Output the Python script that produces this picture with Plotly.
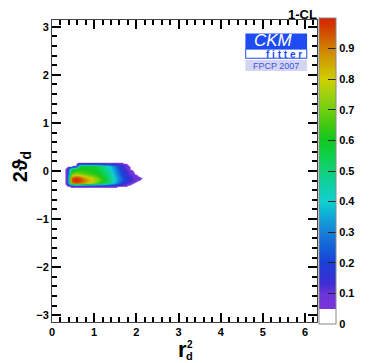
import numpy as np
import plotly.graph_objects as go

# grid of the 1-CL scan (r_d^2 along x, 2theta_d along y)
r2_vals = [0.25, 0.35, 0.45, 0.55, 0.65, 0.75, 0.85, 0.95, 1.05, 1.15, 1.25,
           1.35, 1.45, 1.55, 1.65, 1.75, 1.85, 1.95, 2.05, 2.15, 2.25]
theta_vals = [-0.40, -0.35, -0.30, -0.25, -0.20, -0.15, -0.10, -0.05,
              0.00, 0.05, 0.10, 0.15, 0.20, 0.25]

cl_rows = [
    [0, 0, 0, 0, 0, 0, 0, 0, 0, 0, 0, 0, 0, 0, 0, 0, 0, 0, 0, 0, 0],
    [0, 0, 0, 0, 0, 0, 0, 0, 0, 0, 0, 0, 0, 0, 0, 0, 0, 0, 0, 0, 0],
    [0, 0.05, 0.12, 0.14, 0.14, 0.14, 0.14, 0.14, 0.13, 0.13, 0.13, 0.12, 0.11, 0.10, 0.08, 0.06, 0.02, 0, 0, 0, 0],
    [0, 0.08, 0.86, 0.93, 0.91, 0.86, 0.80, 0.74, 0.67, 0.60, 0.54, 0.46, 0.38, 0.29, 0.20, 0.14, 0.09, 0.04, 0, 0, 0],
    [0, 0.09, 0.96, 1.00, 0.97, 0.92, 0.86, 0.80, 0.73, 0.66, 0.59, 0.51, 0.42, 0.33, 0.25, 0.18, 0.13, 0.09, 0.05, 0.01, 0],
    [0, 0.09, 0.93, 0.98, 0.95, 0.89, 0.83, 0.77, 0.71, 0.65, 0.58, 0.50, 0.42, 0.33, 0.25, 0.19, 0.14, 0.10, 0.08, 0.05, 0],
    [0, 0.09, 0.82, 0.88, 0.85, 0.80, 0.75, 0.70, 0.66, 0.61, 0.55, 0.48, 0.40, 0.31, 0.23, 0.17, 0.12, 0.08, 0.05, 0.02, 0],
    [0, 0.09, 0.68, 0.74, 0.72, 0.69, 0.66, 0.64, 0.62, 0.58, 0.53, 0.46, 0.38, 0.29, 0.21, 0.15, 0.10, 0.06, 0.02, 0, 0],
    [0, 0.09, 0.60, 0.64, 0.64, 0.63, 0.62, 0.61, 0.59, 0.56, 0.51, 0.44, 0.36, 0.27, 0.20, 0.14, 0.08, 0.03, 0, 0, 0],
    [0, 0.07, 0.55, 0.58, 0.60, 0.60, 0.60, 0.59, 0.57, 0.54, 0.49, 0.42, 0.34, 0.26, 0.18, 0.12, 0.05, 0, 0, 0, 0],
    [0, 0.02, 0.05, 0.08, 0.57, 0.58, 0.58, 0.58, 0.56, 0.52, 0.46, 0.39, 0.31, 0.23, 0.16, 0.10, 0.03, 0, 0, 0, 0],
    [0, 0, 0, 0.02, 0.18, 0.20, 0.20, 0.20, 0.19, 0.18, 0.17, 0.15, 0.13, 0.12, 0.10, 0.07, 0, 0, 0, 0, 0],
    [0, 0, 0, 0, 0.03, 0.04, 0.04, 0.04, 0.04, 0.04, 0.04, 0.04, 0.04, 0.03, 0.03, 0, 0, 0, 0, 0, 0],
    [0, 0, 0, 0, 0, 0, 0, 0, 0, 0, 0, 0, 0, 0, 0, 0, 0, 0, 0, 0, 0],
]

x_ticks = [0, 1, 2, 3, 4, 5, 6]
y_ticks = [-3, -2, -1, 0, 1, 2, 3]
cbar_ticks = [0, 0.1, 0.2, 0.3, 0.4, 0.5, 0.6, 0.7, 0.8, 0.9]

# ROOT-like palette, white below 0.05
palette = [
    [0.0, '#ffffff'], [0.05, '#ffffff'],
    [0.0501, '#7b33dc'], [0.10, '#6a35d8'], [0.13, '#3f2dd2'],
    [0.20, '#1a40d6'], [0.25, '#1460d8'], [0.30, '#1880d8'],
    [0.35, '#10a8d8'], [0.40, '#10d0d0'], [0.45, '#10d0a8'],
    [0.50, '#10d07a'], [0.55, '#10d04a'], [0.60, '#10c820'],
    [0.65, '#40c810'], [0.70, '#70d010'], [0.75, '#a0d010'],
    [0.80, '#d0d000'], [0.85, '#d0a800'], [0.90, '#d08000'],
    [0.95, '#d05000'], [1.0, '#d82000'],
]

font_tk = dict(family="Liberation Sans, Arial, sans-serif", size=11, color='black')

# the page body has an 8px margin, so work in reference pixels and shift
OFF = 8
W, H = 374 - OFF, 363 - OFF
L, R, T, B = 52 - OFF, 374 - 327, 18 - OFF, 363 - 322
pw, ph = W - L - R, H - T - B

def px(x):
    return (x - OFF - L) / pw

def py(y):
    return (H - B - (y - OFF)) / ph

fig = go.Figure()
fig.add_trace(go.Heatmap(
    x=r2_vals, y=theta_vals, z=np.array(cl_rows),
    zmin=0, zmax=1, zsmooth='best', colorscale=palette,
    colorbar=dict(x=px(329), xanchor='left', xpad=0, thickness=17,
                  y=py(16), yanchor='top', ypad=0, lenmode='pixels', len=306,
                  tickvals=cbar_ticks, ticktext=['<b>%g</b>' % t for t in cbar_ticks],
                  ticks='inside', ticklen=8, tickcolor='#222', tickwidth=1,
                  tickfont=font_tk, outlinewidth=1, outlinecolor='#888'),
    hoverinfo='skip'))

axis_common = dict(showgrid=False, zeroline=False, showline=True, linecolor='#444',
                   linewidth=1, mirror='allticks', ticks='inside', ticklen=9,
                   tickwidth=1.6, tickcolor='black', tickfont=font_tk,
                   minor=dict(ticks='inside', ticklen=5, tickwidth=1.6, tickcolor='black',
                              dtick=0.2))

fig.update_xaxes(range=[0, 2*np.pi], tick0=0, dtick=1,
                 tickprefix='<b>', ticksuffix='</b>', **axis_common)
fig.update_yaxes(range=[-np.pi, np.pi], tick0=0, dtick=1,
                 tickprefix='<b>', ticksuffix='</b>', **axis_common)

# CKMfitter logo
shapes = [
    dict(type='rect', xref='paper', yref='paper', x0=px(252.7), x1=px(316.7),
         y0=py(47.3), y1=py(31.7), fillcolor='#1e4cf2', line=dict(width=0)),
    dict(type='rect', xref='paper', yref='paper', x0=px(253), x1=px(316.4),
         y0=py(56.5), y1=py(47.3), fillcolor='white', line=dict(color='#1e4cf2', width=1)),
    dict(type='rect', xref='paper', yref='paper', x0=px(252.7), x1=px(316.7),
         y0=py(69.3), y1=py(58.3), fillcolor='#d3d5f2', line=dict(width=0)),
]

annotations = [
    dict(text='<i>CKM</i>', x=px(282), y=py(39), font=dict(family='Liberation Sans', size=17, color='white')),
    dict(text='<b>f i t t e r</b>', x=px(293), y=py(52.5), font=dict(family='Liberation Sans', size=10, color='#1e4cf2')),
    dict(text='FPCP 2007', x=px(284.5), y=py(64), font=dict(family='Liberation Sans', size=9, color='#4058d8')),
    dict(text='<b>1-CL</b>', x=px(328), y=py(12.5), xanchor='right', borderpad=0,
         font=dict(family='Liberation Sans', size=13, color='black')),
    # axis titles
    dict(text='<b>r</b>', x=px(187), y=py(350), font=dict(family='Liberation Sans', size=22, color='black')),
    dict(text='<b>2</b>', x=px(195), y=py(344.5), font=dict(family='Liberation Sans', size=10, color='black')),
    dict(text='<b>d</b>', x=px(195), y=py(356), font=dict(family='Liberation Sans', size=11, color='black')),
    dict(text='<b>2ϑ<sub>d</sub></b>', x=px(20), y=py(166), textangle=-90,
         font=dict(family='Liberation Sans, DejaVu Sans', size=20, color='black')),
]
for a in annotations:
    a.setdefault('xref', 'paper')
    a.setdefault('yref', 'paper')
    a.setdefault('showarrow', False)
    a.setdefault('xanchor', 'center')
    a.setdefault('yanchor', 'middle')

fig.update_layout(width=W, height=H, margin=dict(l=L, r=R, t=T, b=B),
                  paper_bgcolor='white', plot_bgcolor='white',
                  shapes=shapes, annotations=annotations, showlegend=False)

fig.write_html("out.html")
